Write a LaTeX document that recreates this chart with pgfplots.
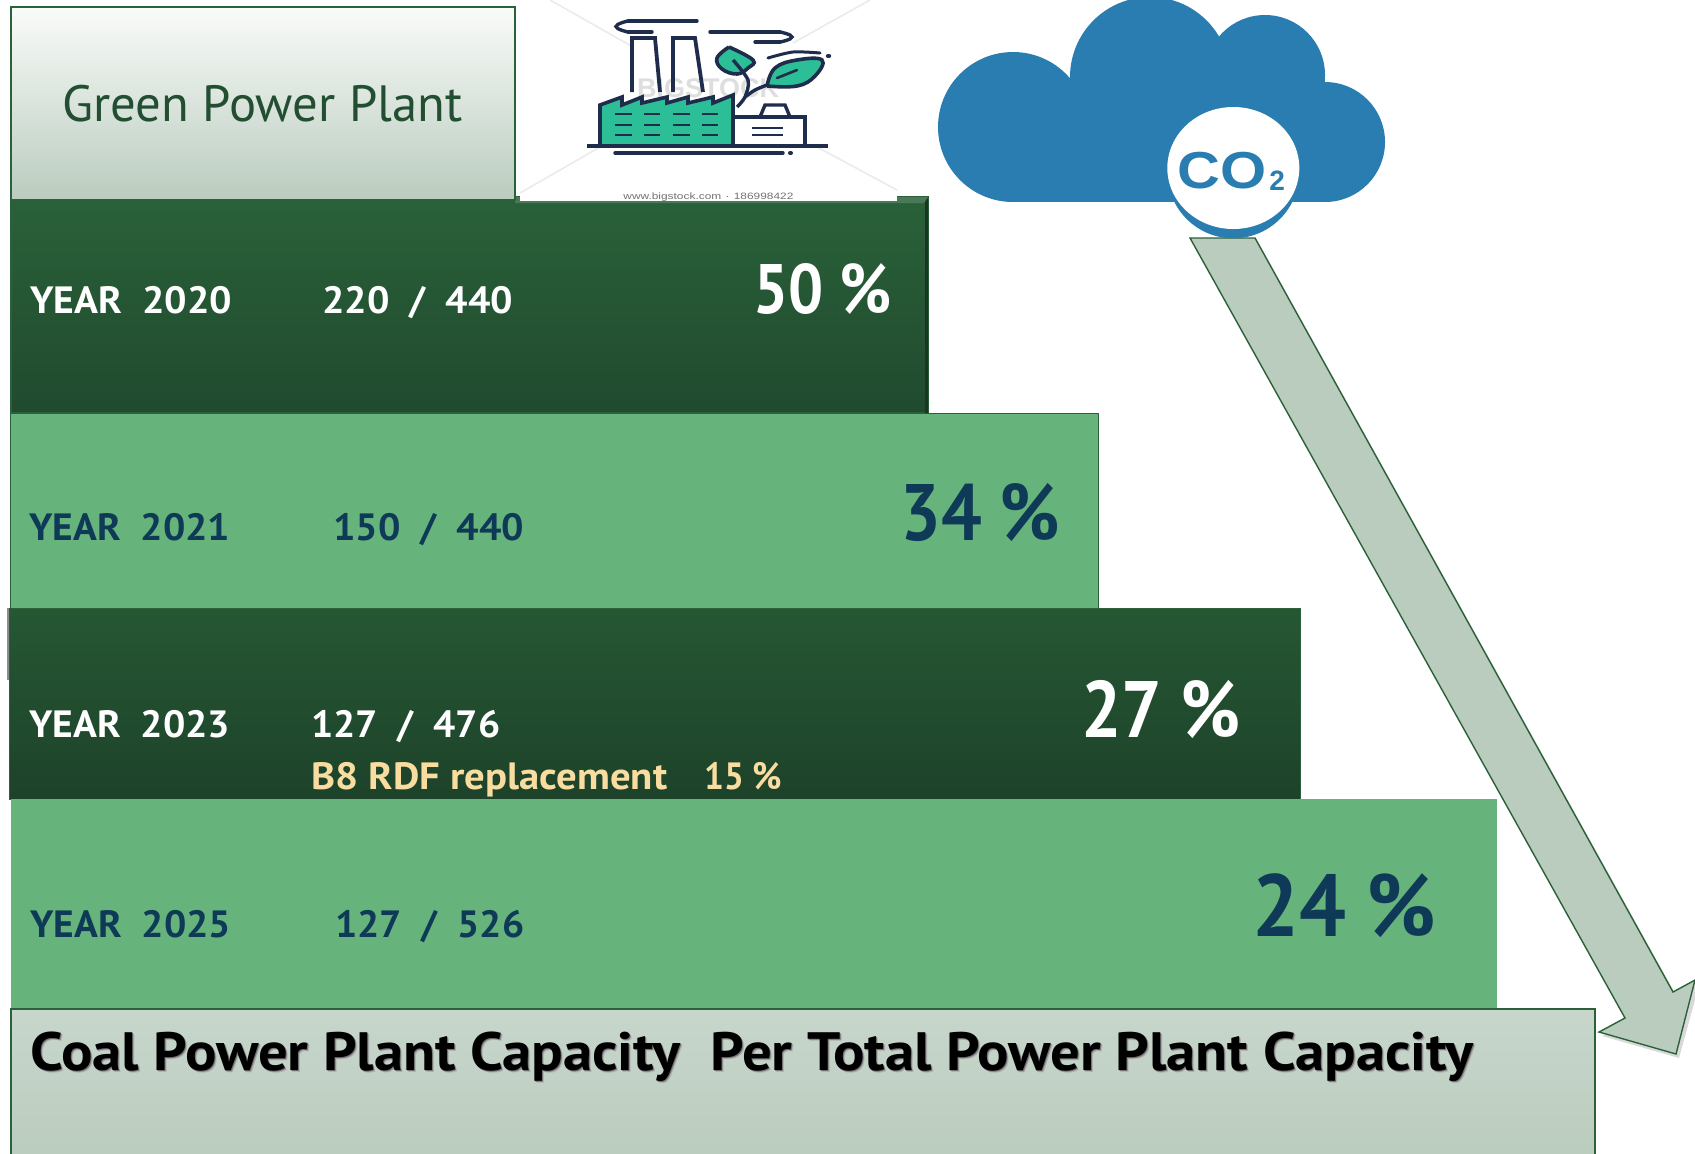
\documentclass[border=0pt]{standalone}
\usepackage{pgfplots}
\pgfplotsset{compat=1.18}
\usepackage{fontspec}
\setmainfont{PT Sans}
\newfontfamily\arialf{Liberation Sans}
\definecolor{edge}{HTML}{2A6139}
\definecolor{barl}{HTML}{66B47C}
\definecolor{navy}{HTML}{0F3A57}
\definecolor{gold}{HTML}{F9DCA0}
\definecolor{ink}{HTML}{1F2D4D}
\definecolor{teal}{HTML}{2BBE97}
\definecolor{cloud}{HTML}{2A7DB0}
\definecolor{arrowf}{HTML}{BACCBE}
\definecolor{titleg}{HTML}{224E31}
% x, baseline y, font size pt, width pt, colour, text
\newcommand\TX[6]{\node[anchor=base west,inner sep=0pt,text=#5] at (axis cs:#1,#2) {\resizebox{#4pt}{\height}{\fontsize{#3}{#3}\selectfont #6}};}
\newcommand\BX[6]{\node[anchor=base west,inner sep=0pt,text=#5] at (axis cs:#1,#2) {\resizebox{#4pt}{\height}{\fontsize{#3}{#3}\selectfont\bfseries #6}};}
\pgfplotstableread{
x y
11 197
928 197
928 413
11 413
}\barA
\pgfplotstableread{
x y
10 413
1098 413
1098 608
10 608
}\barB
\pgfplotstableread{
x y
9 608
1300 608
1300 799
9 799
}\barC
\pgfplotstableread{
x y
11 799
1497 799
1497 1008
11 1008
}\barD
\begin{document}
\begin{tikzpicture}
\begin{axis}[
  scale only axis, width=847.5pt, height=576.5pt,
  xmin=0, xmax=1695, ymin=0, ymax=1153, y dir=reverse,
  hide axis]
% bars
\addplot[draw=edge, line width=0.6pt, top color=edge, bottom color=titleg!95!black] table {\barA} -- cycle;
\addplot[black!45, line width=0.7pt] coordinates {(8,608) (8,680)};
\addplot[draw=edge, line width=0.5pt, fill=barl] table {\barB} -- cycle;
\addplot[draw=edge, line width=0.5pt, top color=edge!90!black, bottom color=titleg!85!black] table {\barC} -- cycle;
\addplot[draw=none, fill=barl] table {\barD} -- cycle;
% bevel of the first bar
\addplot[draw=none, fill=titleg!70!black] coordinates {(925,201) (928,197) (928,413) (925,413)} -- cycle;
\addplot[draw=none, fill=edge!85!white] coordinates {(515,197) (928,197) (924,203) (515,203)} -- cycle;
% white picture background
\addplot[draw=none, fill=white] coordinates {(520,0) (897,0) (897,201) (520,201)} -- cycle;
% top box
\addplot[draw=edge, line width=0.7pt, top color=white!92!arrowf, bottom color=arrowf] coordinates {(11,7) (515,7) (515,200) (11,200)} -- cycle;
% bottom box
\addplot[draw=edge, line width=0.7pt, top color=white!20!arrowf, bottom color=arrowf] coordinates {(11,1009) (1595,1009) (1595,1165) (11,1165)} -- cycle;
% arrow
\addplot[draw=none, fill=black!15] coordinates {(1193,240) (1257,240) (1676,995) (1695,985) (1695,1000) (1679,1058) (1602,1036) (1628,1021)} -- cycle;
\addplot[draw=edge, line width=0.7pt, fill=arrowf] coordinates {(1190,238) (1255,238) (1673,992) (1695,980) (1676,1054) (1599,1032) (1625,1018)} -- cycle;
% watermark
\addplot[black!8, line width=0.8pt] coordinates {(550,0) (633,47)};
\addplot[black!8, line width=0.8pt] coordinates {(870,0) (793,43)};
\addplot[black!8, line width=0.8pt] coordinates {(520,193) (600,147)};
\addplot[black!8, line width=0.8pt] coordinates {(897,190) (817,147)};
\node[anchor=base,inner sep=0pt,text=black!13] at (axis cs:708,97) {\arialf\fontsize{13.5}{13.5}\selectfont\bfseries BIGSTOCK};
% factory icon
\addplot[draw=ink, line width=1.8pt, fill=teal] coordinates {(600,146) (600,105) (622,97) (622,105) (642,97) (642,103) (667,97) (667,103) (688,97) (688,103) (713,97) (713,103) (733,95) (733,146)} -- cycle;
\addplot[ink, line width=1.9pt] coordinates {(632,92) (632,38) (655,38) (660,92)};
\addplot[ink, line width=1.9pt] coordinates {(673,92) (673,38) (695,38) (703,92)};
\addplot[ink, line width=1.7pt, line cap=round] coordinates {(697,21) (628,21)};
\addplot[ink, line width=1.7pt, line cap=round, smooth, tension=1] coordinates {(628,21) (616,26.5) (628,32)};
\addplot[ink, line width=1.7pt, line cap=round] coordinates {(628,32) (652,32)};
\addplot[ink, line width=1.7pt, line cap=round] coordinates {(710,32) (780,32)};
\addplot[ink, line width=1.7pt, line cap=round, smooth, tension=1] coordinates {(780,32) (792,37) (780,42)};
\addplot[ink, line width=1.7pt, line cap=round] coordinates {(780,42) (755,42)};
\addplot[ink, line width=1.8pt] coordinates {(587,146) (828,146)};
\addplot[ink, line width=1.7pt, line cap=round] coordinates {(615,153) (783,153)};
\addplot[ink, line width=2pt, line cap=round] coordinates {(790,153) (791,153)};
\addplot[ink, line width=1.4pt] coordinates {(615,114) (632,114)};
\addplot[ink, line width=1.4pt] coordinates {(644,114) (660,114)};
\addplot[ink, line width=1.4pt] coordinates {(673,114) (690,114)};
\addplot[ink, line width=1.4pt] coordinates {(702,114) (718,114)};
\addplot[ink, line width=1.4pt] coordinates {(615,125) (632,125)};
\addplot[ink, line width=1.4pt] coordinates {(644,125) (660,125)};
\addplot[ink, line width=1.4pt] coordinates {(673,125) (690,125)};
\addplot[ink, line width=1.4pt] coordinates {(702,125) (718,125)};
\addplot[ink, line width=1.4pt] coordinates {(615,135) (632,135)};
\addplot[ink, line width=1.4pt] coordinates {(644,135) (660,135)};
\addplot[ink, line width=1.4pt] coordinates {(673,135) (690,135)};
\addplot[ink, line width=1.4pt] coordinates {(702,135) (718,135)};
\addplot[ink, line width=1.8pt] coordinates {(735,117) (805,117) (805,146)};
\addplot[ink, line width=1.7pt] coordinates {(760,117) (765,105) (785,105) (790,117)};
\addplot[ink, line width=1.4pt] coordinates {(752,128) (783,128)};
\addplot[ink, line width=1.4pt] coordinates {(752,135) (783,135)};
\addplot[draw=ink, line width=1.8pt, fill=teal, smooth, tension=0.7] coordinates {(767,86) (775,68) (797,60) (822,60) (815,76) (797,86) (767,86)};
\addplot[draw=ink, line width=1.8pt, fill=teal, smooth, tension=0.7] coordinates {(729,47) (717,58) (722,69) (737,74) (748,68) (753,60) (729,47)};
\addplot[ink, line width=1.7pt, smooth] coordinates {(733,60) (748,80) (745,97) (737,107)};
\addplot[ink, line width=1.7pt, smooth] coordinates {(745,97) (755,90) (767,85)};
\addplot[ink, line width=1.3pt, line cap=round] coordinates {(777,78) (797,70)};
\addplot[ink, line width=1.5pt, smooth, line cap=round] coordinates {(768,58) (793,52) (820,53)};
\addplot[ink, line width=2.2pt, line cap=round] coordinates {(828,56) (829,56)};
\node[anchor=base west,inner sep=0pt,text=black!55] at (axis cs:623,199) {\resizebox{85pt}{\height}{\arialf\fontsize{4.6}{5}\selectfont www.bigstock.com $\cdot$ 186998422}};
% cloud
\fill[cloud] (axis cs:1013,127) circle[radius=37.5pt];
\fill[cloud] (axis cs:1150,77) circle[radius=40pt];
\fill[cloud] (axis cs:1265,75) circle[radius=30pt];
\fill[cloud] (axis cs:1325,142) circle[radius=30pt];
\addplot[draw=none, fill=cloud] coordinates {(1013,80) (1325,80) (1325,202) (1013,202)} -- cycle;
\fill[cloud] (axis cs:1233.3,172.3) circle[radius=33pt];
\fill[white] (axis cs:1233.3,168) ellipse[x radius=33pt, y radius=30.5pt];
\node[anchor=base west,inner sep=0pt,text=cloud] at (axis cs:1177,188) {\resizebox{44.5pt}{\height}{\arialf\bfseries\fontsize{26}{26}\selectfont CO}};
\node[anchor=base west,inner sep=0pt,text=cloud] at (axis cs:1269,190) {\arialf\bfseries\fontsize{14}{14}\selectfont 2};
% text
\TX{62}{121}{25.5}{200}{titleg}{Green Power Plant}
\BX{30}{313}{19}{101}{white}{YEAR\ \ 2020}
\BX{322}{313}{19}{95.5}{white}{220 \ / \ 440}
\BX{753}{313}{35}{69}{white}{50 \%}
\BX{29}{540}{19}{100.5}{navy}{YEAR\ \ 2021}
\BX{333}{540}{19}{95.5}{navy}{150 \ / \ 440}
\BX{900}{540}{40}{80}{navy}{34 \%}
\BX{29}{737}{19}{100.5}{white}{YEAR\ \ 2023}
\BX{311}{737}{19}{94.5}{white}{127 \ / \ 476}
\BX{311}{789}{19}{178}{gold}{B8 RDF replacement}
\BX{704}{789}{19}{39}{gold}{15 \%}
\BX{1081}{737}{40}{79.5}{white}{27 \%}
\BX{30}{937}{19}{100.5}{navy}{YEAR\ \ 2025}
\BX{335}{937}{19}{94.5}{navy}{127 \ / \ 526}
\BX{1252}{936}{44}{92}{navy}{24 \%}
\BX{32}{1072}{27}{721.5}{black!30}{Coal Power Plant Capacity \ Per Total Power Plant Capacity}
\BX{31}{1071}{27}{721.5}{black!55}{Coal Power Plant Capacity \ Per Total Power Plant Capacity}
\BX{30}{1070}{27}{721.5}{black}{Coal Power Plant Capacity \ Per Total Power Plant Capacity}
\end{axis}
\pgfresetboundingbox
\path[use as bounding box] (0,0) rectangle (847.5pt,576.5pt);
\end{tikzpicture}
\end{document}
